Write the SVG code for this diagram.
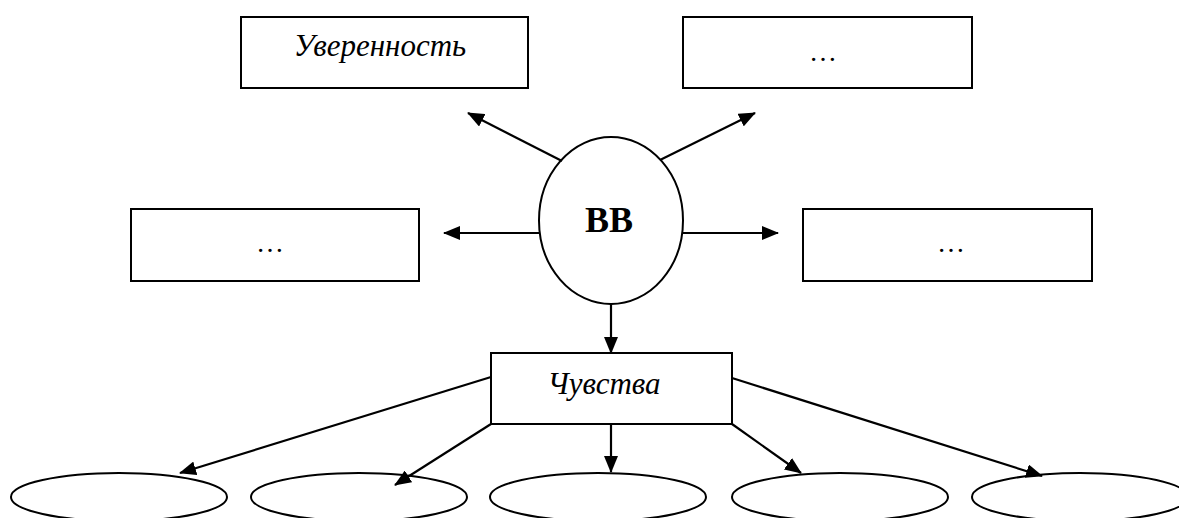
<svg xmlns="http://www.w3.org/2000/svg" width="1179" height="518" viewBox="0 0 1179 518">
<style>
.box{fill:#fff;stroke:#000;stroke-width:2}
.ell{fill:#fff;stroke:#000;stroke-width:2}
.lbl{font-family:"Liberation Serif","Times New Roman",serif;font-style:italic;font-size:31px;fill:#000;text-anchor:middle}
.dots{font-family:"Liberation Serif","Times New Roman",serif;font-size:28px;fill:#000;text-anchor:middle}
.bold{font-family:"Liberation Serif","Times New Roman",serif;font-weight:bold;font-size:36px;fill:#000;text-anchor:middle}
.conn line{stroke:#000;stroke-width:2.2;marker-end:url(#arr)}
</style>
<defs>
<marker id="arr" markerUnits="userSpaceOnUse" markerWidth="17" markerHeight="14" viewBox="0 0 17 14" refX="16" refY="7" orient="auto">
<path d="M0,0 L17,7 L0,14 Z" fill="#000"/>
</marker>
</defs>
<rect width="1179" height="518" fill="#fff"/>
<g id="n-uverennost"><rect class="box" x="241" y="17" width="287" height="71"/><text class="lbl" x="380" y="56">Уверенность</text></g>
<g id="n-top-right"><rect class="box" x="683" y="17" width="289" height="71"/><text class="dots" x="823" y="61">…</text></g>
<g id="n-mid-left"><rect class="box" x="131" y="209" width="288" height="72"/><text class="dots" x="270" y="252">…</text></g>
<g id="n-mid-right"><rect class="box" x="803" y="209" width="289" height="72"/><text class="dots" x="951" y="252">…</text></g>
<g id="n-bb"><ellipse class="ell" cx="611" cy="220.5" rx="72" ry="83.5"/><text class="bold" x="609" y="232">ВВ</text></g>
<g id="n-chuvstva"><rect class="box" x="491" y="353" width="241" height="71"/><text class="lbl" x="604" y="394">Чувства</text></g>
<g id="n-e1"><ellipse class="ell" cx="119" cy="497" rx="108" ry="24"/></g>
<g id="n-e2"><ellipse class="ell" cx="359" cy="497" rx="108" ry="24"/></g>
<g id="n-e3"><ellipse class="ell" cx="598" cy="497" rx="108" ry="24"/></g>
<g id="n-e4"><ellipse class="ell" cx="840" cy="497" rx="108" ry="24"/></g>
<g id="n-e5"><ellipse class="ell" cx="1080" cy="497" rx="108" ry="24"/></g>
<g id="connectors" class="conn">
<line x1="562" y1="161" x2="468" y2="113"/>
<line x1="660" y1="160" x2="755" y2="113"/>
<line x1="539" y1="233" x2="444" y2="233"/>
<line x1="683" y1="233" x2="778" y2="233"/>
<line x1="611" y1="304" x2="611" y2="353"/>
<line x1="491" y1="377" x2="180" y2="473"/>
<line x1="491" y1="424" x2="395" y2="485"/>
<line x1="611" y1="424" x2="611" y2="472"/>
<line x1="732" y1="424" x2="801" y2="473"/>
<line x1="732" y1="378" x2="1042" y2="476"/>
</g>
</svg>
